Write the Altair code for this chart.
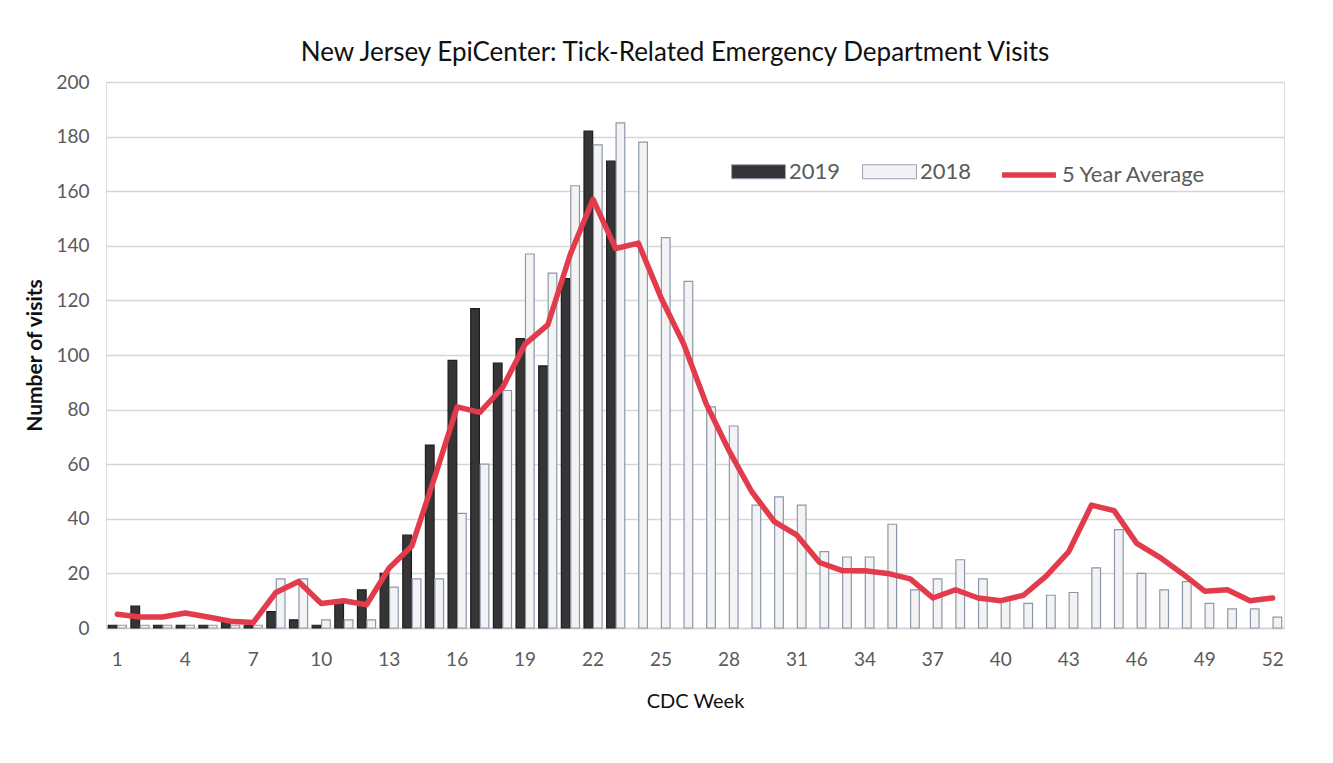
import altair as alt
import pandas as pd

weeks = list(range(1, 53))
week_ticks = list(range(1, 53, 3))

visits_2019 = [1, 8, 1, 1, 1, 2, 1, 6, 3, 1, 9, 14, 20, 34, 67, 98, 117, 97, 106, 96,
               128, 182, 171]

visits_2018 = [1, 1, 1, 1, 1, 1, 1, 18, 18, 3, 3, 3, 15, 18, 18, 42, 60, 87, 137, 130,
               162, 177, 185, 178, 143, 127, 81, 74, 45, 48, 45, 28, 26, 26, 38, 14, 18, 25, 18, 10,
               9, 12, 13, 22, 36, 20, 14, 17, 9, 7, 7, 4]

avg_5yr = [5, 4, 4, 5.5, 4, 2.5, 2, 13, 17, 9, 10, 8.5, 22, 30, 55, 81, 79, 88, 104, 111,
           137, 157, 139, 141, 121, 104, 82, 65, 50, 39, 34, 24, 21, 21, 20, 18, 11, 14, 11, 10,
           12, 19, 28, 45, 43, 31, 26, 20, 13.5, 14, 10, 11]

series_names = ["2019", "2018"]
series_fill = ["#353535", "#f3f3f3"]
avg_name = "5 Year Average"
avg_color = "#e23b4c"

rows = []
for i, w in enumerate(weeks):
    if i < len(visits_2019):
        rows.append({"week": w, "series": "2019", "visits": visits_2019[i]})
    rows.append({"week": w, "series": "2018", "visits": visits_2018[i]})
bars_df = pd.DataFrame(rows)
line_df = pd.DataFrame({"week": weeks, "visits": avg_5yr, "label": avg_name})

FONT = "Lato"

x_enc = alt.X(
    "week:O",
    scale=alt.Scale(domain=weeks, paddingInner=0.2, paddingOuter=0.1),
    axis=alt.Axis(
        values=week_ticks, labelAngle=0, ticks=False, domain=True,
        domainColor="#d4d4d4", domainWidth=1.5, grid=False,
        labelFontSize=19, labelColor="#5a5a5a", labelPadding=22, labelFont=FONT,
        title="CDC Week", titleFontSize=20, titleFontWeight="normal",
        titleColor="#111111", titlePadding=22, titleFont=FONT,
    ),
)
y_enc = alt.Y(
    "visits:Q",
    scale=alt.Scale(domain=[0, 200], nice=False),
    axis=alt.Axis(
        values=list(range(0, 201, 20)), grid=True, gridColor="#d6d6d6", gridWidth=1.5,
        domain=False, ticks=False, labelFontSize=19, labelColor="#5a5a5a",
        labelPadding=17, labelFont=FONT,
        title="Number of visits", titleFontSize=21, titleFontWeight="bold",
        titleColor="#111111", titlePadding=10, titleFont=FONT,
    ),
)

rect_path = "M-1,-0.26H1V0.26H-1Z"

bars = alt.Chart(bars_df).mark_bar(strokeWidth=1.2).encode(
    x=x_enc,
    y=y_enc,
    xOffset=alt.XOffset("series:N", sort=series_names,
                        scale=alt.Scale(domain=series_names, paddingInner=0.08)),
    fill=alt.Fill(
        "series:N",
        scale=alt.Scale(domain=series_names, range=series_fill),
        legend=alt.Legend(
            title=None, orient="none", direction="horizontal",
            legendX=625, legendY=62, symbolType=rect_path, symbolSize=2900,
            symbolStrokeColor="#9aa2b4", symbolStrokeWidth=1,
            labelFontSize=22, labelColor="#5a5a5a", labelFont=FONT,
            labelOffset=3, columnPadding=19, padding=0,
        ),
    ),
    stroke=alt.condition(alt.datum.series == "2019", alt.value("#1e1e1e"), alt.value("#8d97ab")),
)

line = alt.Chart(line_df).mark_line(strokeWidth=5.5, strokeJoin="round", strokeCap="round").encode(
    x=alt.X("week:O"),
    y=alt.Y("visits:Q"),
    stroke=alt.Stroke(
        "label:N",
        scale=alt.Scale(domain=[avg_name], range=[avg_color]),
        legend=alt.Legend(
            title=None, orient="none", legendX=893, legendY=63,
            symbolType="stroke", symbolSize=2900, symbolStrokeWidth=5.5,
            labelFontSize=22, labelColor="#5a5a5a", labelFont=FONT,
            labelOffset=3, padding=0,
        ),
    ),
)

chart = alt.layer(bars, line).resolve_scale(fill="independent", stroke="independent").properties(
    width=1178,
    height=546,
    autosize=alt.AutoSizeParams(type="none"),
    padding={"left": 98, "top": 74, "right": 40, "bottom": 120},
    title=alt.Title(
        "New Jersey EpiCenter: Tick-Related Emergency Department Visits",
        fontSize=26, font=FONT, fontWeight="normal", color="#111111",
        anchor="middle", dx=-20, offset=7,
    ),
).configure_view(stroke=None).configure(background="white")

chart.save("out.html", embed_options={"renderer": "svg", "actions": False})
